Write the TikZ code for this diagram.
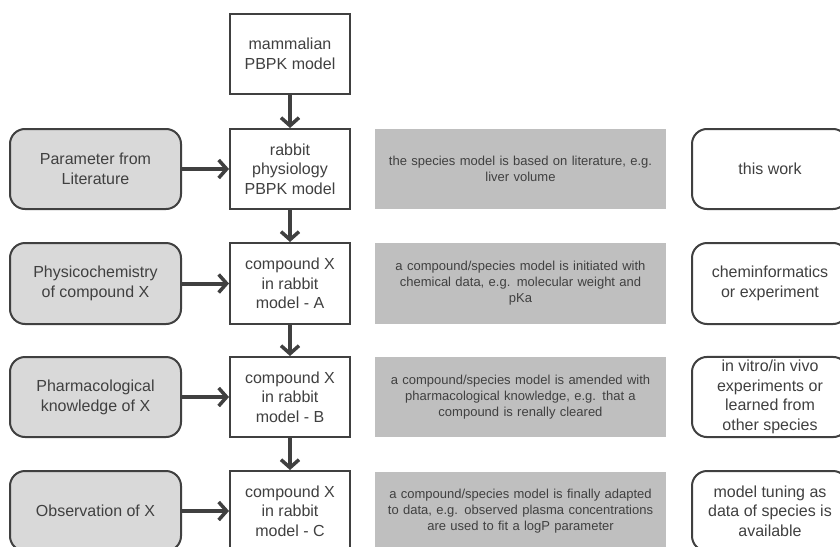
\documentclass[tikz,border=0pt]{standalone}
\usepackage{fontspec}
\setmainfont{Liberation Sans}
\usetikzlibrary{arrows.meta}
\definecolor{dk}{HTML}{404040}
\definecolor{lbox}{HTML}{D9D9D9}
\definecolor{dbox}{HTML}{BFBFBF}
\tikzset{
  mainbox/.style={draw=dk, line width=2pt, fill=white, minimum width=120pt, minimum height=80pt, align=center, text=dk, font=\fontsize{16}{19.5}\selectfont, inner sep=2pt},
  srcbox/.style={draw=dk, line width=2pt, fill=lbox, rounded corners=15pt, minimum width=171pt, minimum height=80pt, align=center, text=dk, font=\fontsize{16}{20}\selectfont},
  descbox/.style={fill=dbox, draw=none, minimum width=289pt, minimum height=80pt, align=center, text=dk, font=\fontsize{13}{16}\selectfont, text width=285pt},
  refbox/.style={draw=dk, line width=2pt, fill=white, rounded corners=15pt, minimum width=156pt, minimum height=80pt, align=center, text=dk, font=\fontsize{16}{19.5}\selectfont},
  flow/.style={draw=dk, line width=4pt, -{Straight Barb[length=8pt, width=18pt, line width=3.5pt]}}
}
\begin{document}
\begin{tikzpicture}[x=1pt, y=-1pt]
\useasboundingbox (0,0) rectangle (840,546);
\clip (0,0) rectangle (840,546);
\fill[white] (0,0) rectangle (840,546);
% centre column
\node[mainbox] (m0) at (290,54) {mammalian\\PBPK model};
\node[mainbox] (m1) at (290,169) {rabbit\\physiology\\PBPK model};
\node[mainbox, minimum height=81pt] (m2) at (290,283.5) {compound X\\in rabbit\\model - A};
\node[mainbox] (m3) at (290,397) {compound X\\in rabbit\\model - B};
\node[mainbox] (m4) at (290,511) {compound X\\in rabbit\\model - C};
% left sources
\node[srcbox] (s1) at (95.5,169) {Parameter from\\Literature};
\node[srcbox, minimum height=81pt] (s2) at (95.5,283.5) {Physicochemistry\\of compound X};
\node[srcbox] (s3) at (95.5,397) {Pharmacological\\knowledge of X};
\node[srcbox] (s4) at (95.5,511) {Observation of X};
% descriptions
\node[descbox] (d1) at (520.5,169) {the species model is based on literature, e.g.\\liver volume};
\node[descbox, minimum height=81pt] (d2) at (520.5,283.5) {a compound/species model is initiated with\\chemical data, e.g. molecular weight and\\pKa};
\node[descbox] (d3) at (520.5,397) {a compound/species model is amended with\\pharmacological knowledge, e.g. that a\\compound is renally cleared};
\node[descbox] (d4) at (520.5,511.5) {a compound/species model is finally adapted\\to data, e.g. observed plasma concentrations\\are used to fit a logP parameter};
% references
\node[refbox] (r1) at (770,169) {this work};
\node[refbox, minimum height=81pt] (r2) at (770,283.5) {cheminformatics\\or experiment};
\node[refbox] (r3) at (770,397) {in vitro/in vivo\\experiments or\\learned from\\other species};
\node[refbox] (r4) at (770,511) {model tuning as\\data of species is\\available};
% arrows
\draw[flow] (m0) -- (m1);
\draw[flow] (m1) -- (m2);
\draw[flow] (m2) -- (m3);
\draw[flow] (m3) -- (m4);
\draw[flow] (s1) -- (m1);
\draw[flow] (s2) -- (m2);
\draw[flow] (s3) -- (m3);
\draw[flow] (s4) -- (m4);
\end{tikzpicture}
\end{document}
